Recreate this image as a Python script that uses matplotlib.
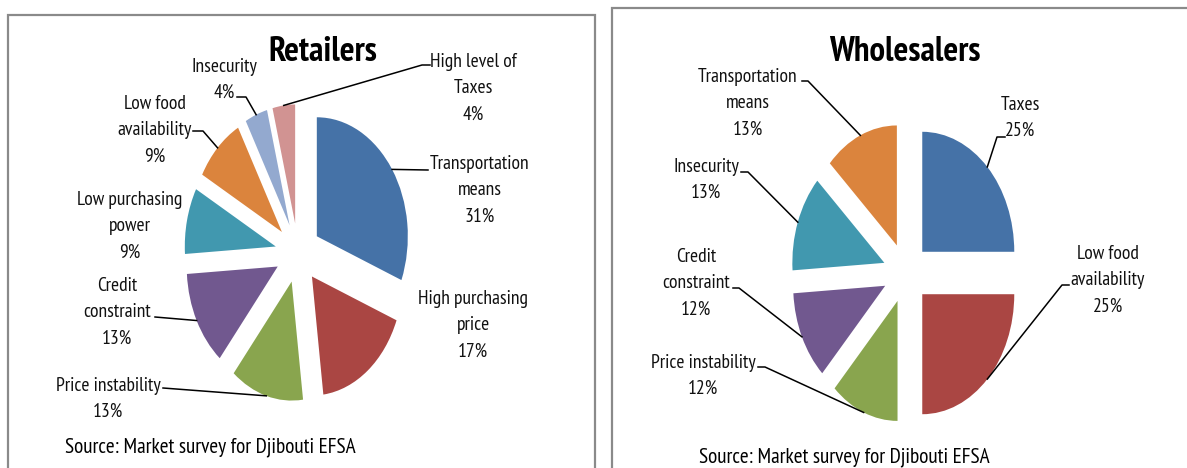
import numpy as np
import matplotlib.pyplot as plt
from matplotlib.lines import Line2D
from matplotlib.patches import Rectangle

plt.rcParams['font.family'] = ['PT Sans Narrow', 'Carlito', 'DejaVu Sans']

# ---- data -------------------------------------------------------------
retail_names = ['Transportation\nmeans', 'High purchasing\nprice', 'Price instability',
                'Credit\nconstraint', 'Low purchasing\npower', 'Low food\navailability',
                'Insecurity', 'High level of\nTaxes']
retail_share = [31, 17, 13, 13, 9, 9, 4, 4]

wholesale_names = ['Taxes', 'Low food\navailability', 'Price instability',
                   'Credit\nconstraint', 'Insecurity', 'Transportation\nmeans']
wholesale_share = [25, 25, 12, 12, 13, 13]

retail_colors = ['#4572A7', '#AA4643', '#89A54E', '#71588F', '#4198AF', '#DB843D',
                 '#93A9CF', '#D19392']
wholesale_colors = ['#4572A7', '#AA4643', '#89A54E', '#71588F', '#4198AF', '#DB843D']

source_note = 'Source: Market survey for Djibouti EFSA'

# ---- layout (pixels, origin top-left) ---------------------------------
W, H = 1187, 468
fig = plt.figure(figsize=(W / 100, H / 100), dpi=100)


def fpos(x, y):
    return x / W, 1 - y / H


def pie_axes(cx, cy, sx, sy):
    # axes spanning +-1.5 data units around the pie centre
    x0, y0 = cx - 1.5 * sx, cy + 1.5 * sy
    ax = fig.add_axes([x0 / W, 1 - y0 / H, 3 * sx / W, 3 * sy / H])
    return ax


# panel frames
fig.add_artist(Rectangle(fpos(8, 480), 587 / W, 465 / H, transform=fig.transFigure,
                         fill=False, edgecolor='#8a8a8a', linewidth=1.6))
fig.add_artist(Rectangle(fpos(612, 480), 600 / W, 472 / H, transform=fig.transFigure,
                         fill=False, edgecolor='#8a8a8a', linewidth=1.6))

# label placement: (centre x, centre y, leader points or None)
retail_layout = [
    (480, 190, [(428, 170)]),
    (473, 325, None),
    (108, 399, [(163, 388)]),
    (117, 312, [(155, 317)]),
    (130, 226, None),
    (155, 130, [(193, 131), (203, 131)]),
    (224, 80, [(237, 97), (246, 97)]),
    (473, 88, [(430, 65), (422, 65)]),
]
wholesale_layout = [
    (1020, 118, [(1005, 137), (997, 137)]),
    (1108, 280, [(1069, 285), (1062, 285)]),
    (703, 376, [(758, 367), (765, 367)]),
    (696, 283, [(733, 288), (739, 288)]),
    (706, 180, [(741, 172), (748, 172)]),
    (748, 103, [(802, 81), (808, 81)]),
]


def draw_panel(ax, names, shares, colors, layout, title, title_xy, source_xy):
    wedges, _ = ax.pie(shares, colors=colors, startangle=90, counterclock=False,
                       explode=[0.25] * len(shares), radius=1.0,
                       wedgeprops=dict(linewidth=0))
    # pie() forces a round pie; the slices here are drawn as an upright ellipse
    ax.set_aspect('auto')
    ax.set_xlim(-1.5, 1.5)
    ax.set_ylim(-1.5, 1.5)
    ax.axis('off')
    for w, name, v, (lx, ly, pts) in zip(wedges, names, shares, layout):
        fig.text(*fpos(lx, ly), f'{name}\n{v}%', ha='center', va='center',
                 fontsize=14, linespacing=1.6, color='#111111')
        if pts:
            mid = np.deg2rad((w.theta1 + w.theta2) / 2)
            ex = w.center[0] + w.r * np.cos(mid)
            ey = w.center[1] + w.r * np.sin(mid)
            dx, dy = ax.transData.transform((ex, ey))
            xs = [p[0] for p in pts] + [dx]
            ys = [p[1] for p in pts] + [H - dy]
            fig.add_artist(Line2D([x / W for x in xs], [1 - y / H for y in ys],
                                  transform=fig.transFigure, color='black', lw=1.1))
    fig.text(*fpos(*title_xy), title, ha='center', va='center', fontsize=25,
             fontweight='bold')
    fig.text(*fpos(*source_xy), source_note, ha='left', va='center', fontsize=15.3)


ax_left = pie_axes(298, 253, 91, 119)
draw_panel(ax_left, retail_names, retail_share, retail_colors, retail_layout,
           'Retailers', (323, 52), (65, 447))

ax_right = pie_axes(906, 273, 92, 120)
draw_panel(ax_right, wholesale_names, wholesale_share, wholesale_colors, wholesale_layout,
           'Wholesalers', (905, 52), (699, 457))

fig.savefig('out.png', dpi=100)
